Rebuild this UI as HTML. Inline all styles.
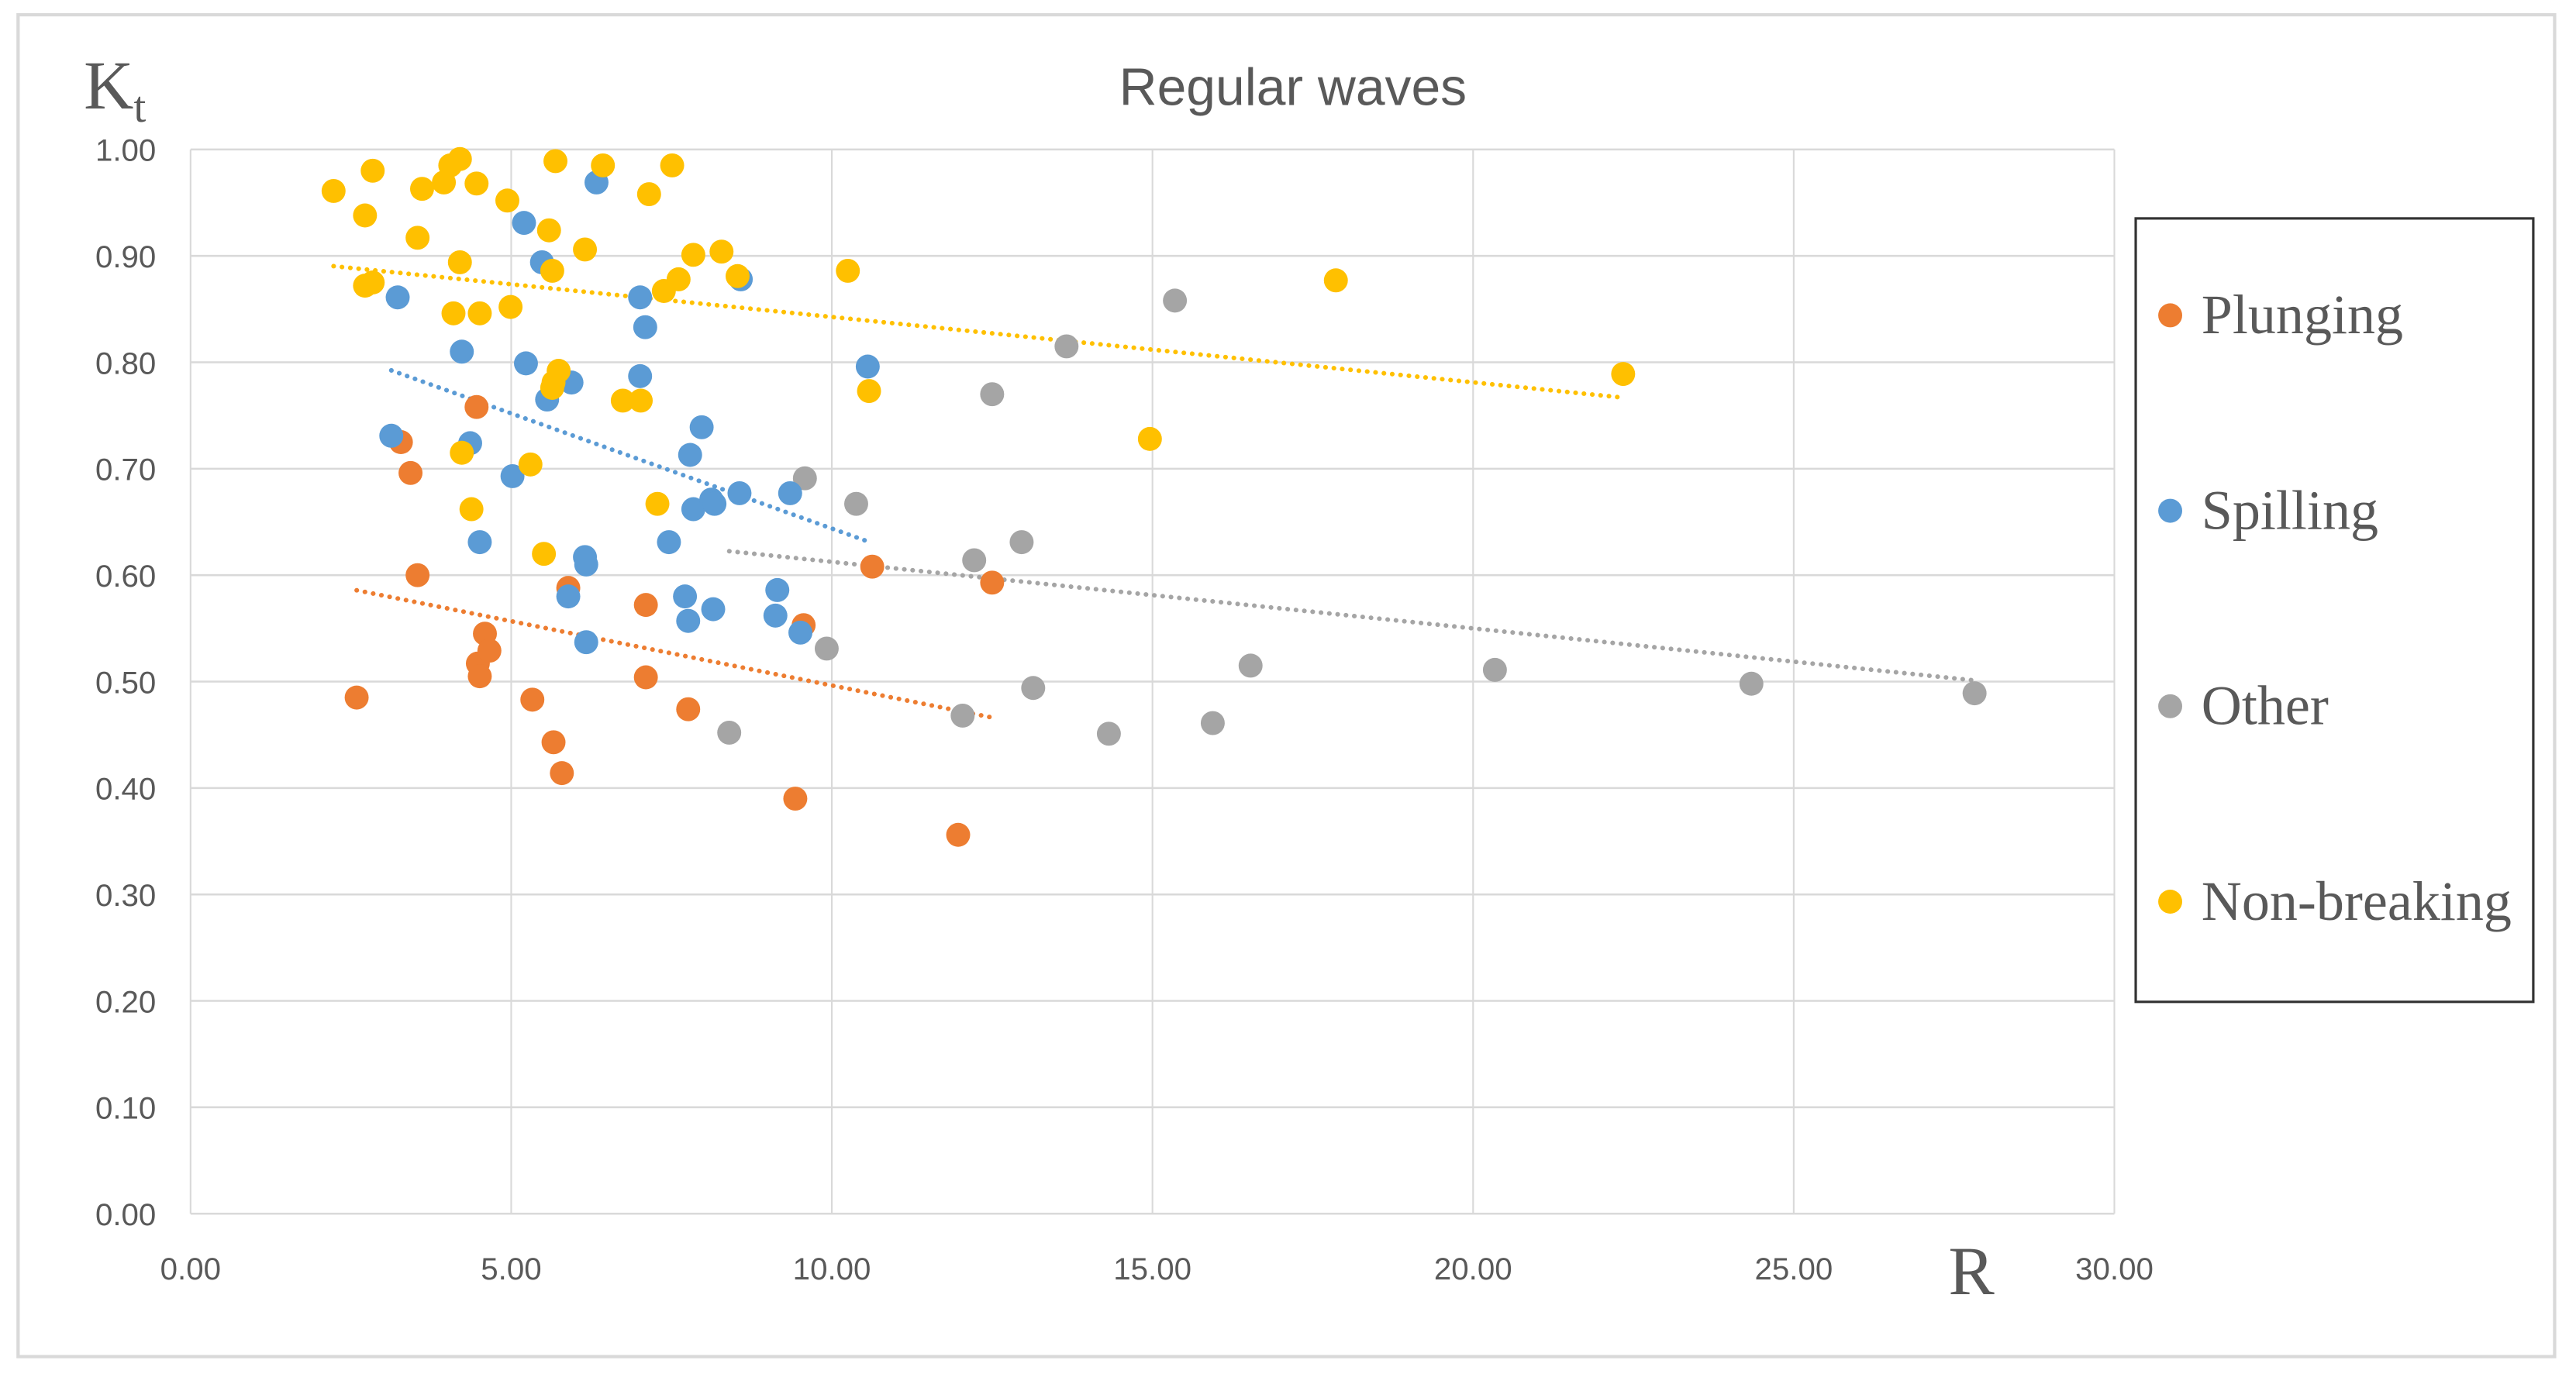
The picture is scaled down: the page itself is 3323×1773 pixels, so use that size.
<!DOCTYPE html>
<html><head><meta charset="utf-8"><style>
html,body{margin:0;padding:0;background:#fff;}
svg{display:block;}
</style></head><body>
<svg id="chart" width="3323" height="1773" viewBox="0 0 1568 836.6" preserveAspectRatio="none" xmlns="http://www.w3.org/2000/svg">
<rect x="11" y="9" width="1544" height="817" fill="#fff" stroke="#d9d9d9" stroke-width="2"/>
<g id="grid"></g>
<g id="axes"></g>
<g id="trends"></g>
<g id="marks"></g>
<text x="787" y="64" text-anchor="middle" font-family="Liberation Sans, sans-serif" font-size="32" fill="#595959">Regular waves</text>
<text x="51" y="66" font-family="Liberation Serif, serif" font-size="42" fill="#595959">K<tspan font-size="27" dy="8">t</tspan></text>
<text x="1200" y="788" text-anchor="middle" font-family="Liberation Serif, serif" font-size="42" fill="#595959">R</text>
<g>
<rect x="1300" y="133" width="242" height="477" fill="#fff" stroke="#333" stroke-width="1.5"/>
<g id="legend-items"></g>
</g>
</svg>
<script>
const xTicks=[0,5,10,15,20,25,30];
const yTicks=[0,0.1,0.2,0.3,0.4,0.5,0.6,0.7,0.8,0.9,1.0];
const seriesNames=["Plunging","Spilling","Other","Non-breaking"];
const seriesColors=["#ED7D31","#5B9BD5","#A5A5A5","#FFC000"];
const plungingR=[3.28,3.43,3.54,4.46,2.59,4.59,4.48,4.51,4.66,5.33,5.66,5.79,5.89,7.10,7.10,7.76,9.43,9.56,10.63,11.97,12.50];
const plungingKt=[0.725,0.696,0.600,0.758,0.485,0.545,0.517,0.505,0.529,0.483,0.443,0.414,0.588,0.572,0.504,0.474,0.390,0.553,0.608,0.356,0.593];
const spillingR=[3.23,3.13,4.23,4.36,4.51,5.20,5.48,5.23,5.94,5.56,5.02,6.33,7.01,7.09,7.01,6.15,6.17,5.89,6.17,7.97,7.79,7.84,8.12,8.17,7.46,7.71,7.76,8.15,8.56,8.58,9.35,9.15,9.12,9.51,10.56];
const spillingKt=[0.861,0.731,0.810,0.724,0.631,0.931,0.894,0.799,0.781,0.765,0.693,0.969,0.861,0.833,0.787,0.617,0.610,0.580,0.537,0.739,0.713,0.662,0.671,0.667,0.631,0.580,0.557,0.568,0.677,0.878,0.677,0.586,0.562,0.546,0.796];
const otherR=[9.58,10.38,9.92,8.40,12.22,12.96,12.50,12.04,13.14,13.66,15.35,14.32,15.94,16.53,20.34,24.34,27.82];
const otherKt=[0.691,0.667,0.531,0.452,0.614,0.631,0.770,0.468,0.494,0.815,0.858,0.451,0.461,0.515,0.511,0.498,0.489];
const nonbreakingR=[2.23,2.84,2.72,2.72,2.84,3.54,3.61,3.95,4.05,4.20,4.46,4.20,4.10,4.51,4.23,4.38,4.94,4.99,5.59,5.64,5.69,6.15,6.43,5.74,5.66,5.64,5.30,5.51,6.74,7.02,7.15,7.51,7.38,7.61,7.84,8.28,8.53,7.28,10.25,10.58,14.96,17.86,22.34];
const nonbreakingKt=[0.961,0.980,0.938,0.872,0.875,0.917,0.963,0.969,0.985,0.991,0.968,0.894,0.846,0.846,0.715,0.662,0.952,0.852,0.924,0.886,0.989,0.906,0.985,0.792,0.781,0.776,0.704,0.620,0.764,0.764,0.958,0.985,0.867,0.878,0.901,0.904,0.881,0.667,0.886,0.773,0.728,0.877,0.789];

const NS="http://www.w3.org/2000/svg";
const L=116,R=1287,T=91,B=739;
function xs(v){return L+(v-0)/(30-0)*(R-L);}
function ys(v){return B-(v-0)/(1-0)*(B-T);}
function mk(tag,attrs,parent){const e=document.createElementNS(NS,tag);for(const k in attrs)e.setAttribute(k,attrs[k]);parent.appendChild(e);return e;}
const grid=document.getElementById('grid'),axes=document.getElementById('axes'),trends=document.getElementById('trends'),marks=document.getElementById('marks'),leg=document.getElementById('legend-items');
yTicks.forEach(t=>{
  const ln=mk('line',{x1:L,x2:R,y1:ys(t),y2:ys(t),stroke:'#d9d9d9','stroke-width':1.2},grid);
  
  
  const tx=mk('text',{x:95,y:ys(t)+7,'text-anchor':'end','font-family':'Liberation Sans, sans-serif','font-size':19,fill:'#595959'},axes);
  tx.textContent=t.toFixed(2);
  
  
});
xTicks.forEach(t=>{
  const ln=mk('line',{x1:xs(t),x2:xs(t),y1:T,y2:B,stroke:'#d9d9d9','stroke-width':1},grid);
  
  
  const tx=mk('text',{x:xs(t),y:779,'text-anchor':'middle','font-family':'Liberation Sans, sans-serif','font-size':19,fill:'#595959'},axes);
  tx.textContent=t.toFixed(2);
  
  
});
const xsData=[plungingR,spillingR,otherR,nonbreakingR];
const ysData=[plungingKt,spillingKt,otherKt,nonbreakingKt];
const order=[2,0,1,3];
order.forEach(i=>{
  const X=xsData[i],Y=ysData[i],n=X.length;
  let sx=0,sy=0,sxx=0,sxy=0;
  for(let j=0;j<n;j++){sx+=X[j];sy+=Y[j];sxx+=X[j]*X[j];sxy+=X[j]*Y[j];}
  const b=(n*sxy-sx*sy)/(n*sxx-sx*sx),a=(sy-b*sx)/n;
  const x0=Math.min(...X),x1=Math.max(...X);
  const ln=mk('line',{x1:xs(x0),y1:ys(a+b*x0),x2:xs(x1),y2:ys(a+b*x1),stroke:seriesColors[i],'stroke-width':2.8,'stroke-dasharray':'0.1 5','stroke-linecap':'round'},trends);
  
  
});
order.forEach(i=>{
  const X=xsData[i],Y=ysData[i];
  for(let j=0;j<X.length;j++){
    const c=mk('circle',{cx:xs(X[j]),cy:ys(Y[j]),r:7.3,fill:seriesColors[i]},marks);
    
    
  }
});
seriesNames.forEach((nm,i)=>{
  const cy=192+i*119;
  const c=mk('circle',{cx:1321,cy:cy,r:7.3,fill:seriesColors[i]},leg);
  
  
  const t=mk('text',{x:1340,y:cy+11,'font-family':'Liberation Serif, serif','font-size':34,fill:'#595959'},leg);
  t.textContent=nm;
  
  
});
</script>
</body></html>
